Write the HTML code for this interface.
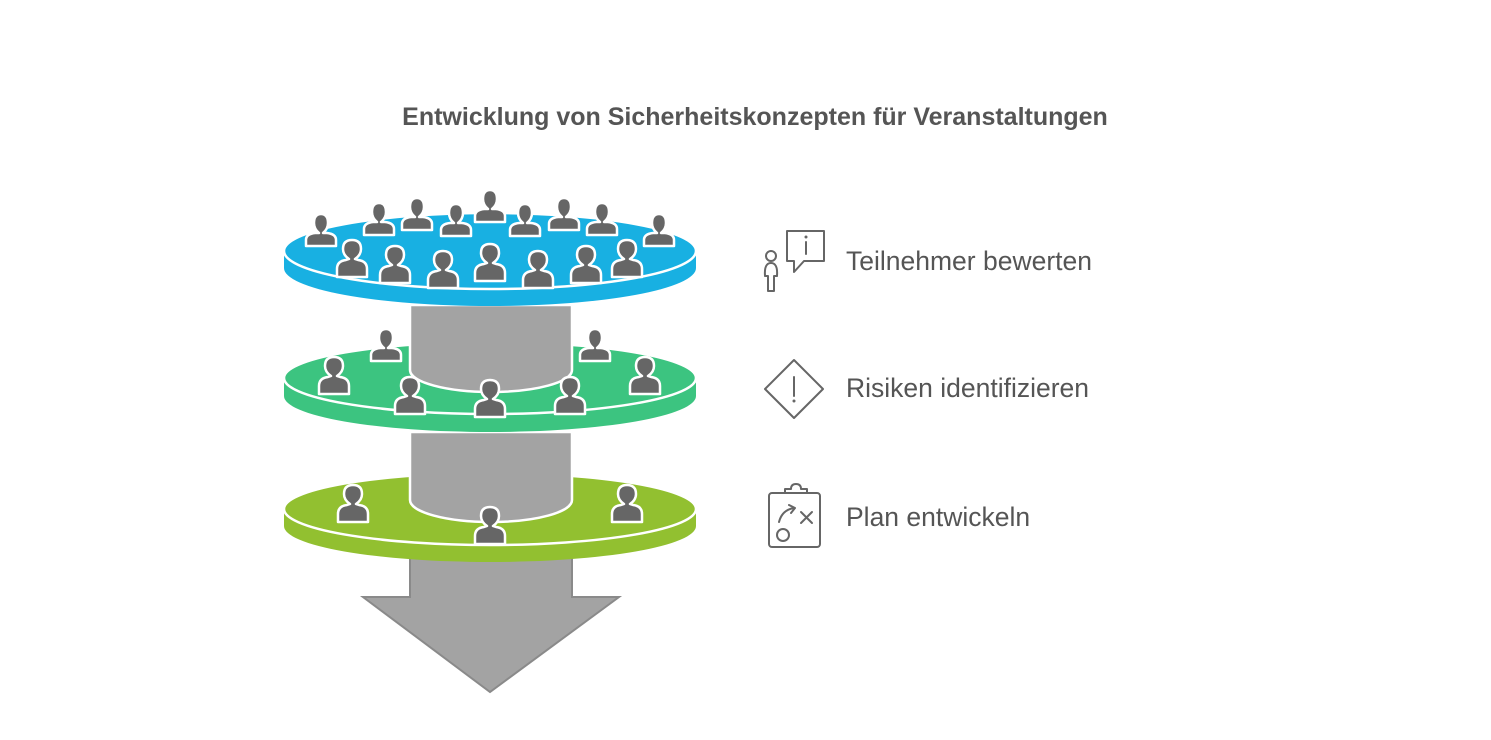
<!DOCTYPE html>
<html><head><meta charset="utf-8"><style>
body{margin:0;background:#fff;}
svg{display:block;}
text{font-family:"Liberation Sans",Arial,sans-serif;}
</style></head><body>
<svg width="1491" height="740" viewBox="0 0 1491 740" xmlns="http://www.w3.org/2000/svg">
<defs>
<g id="p">
<path d="M-15,27 L-15,19 Q-15,11 -6,10 L-3,9 Q-9,5 -9,-1 Q-9,-10 0,-10 Q9,-10 9,-1 Q9,5 3,9 L6,10 Q15,11 15,19 L15,27 Z" fill="#666" stroke="#fff" stroke-width="2.5" stroke-linejoin="round"/>
</g>
<g id="q">
<path d="M-15,21 L-15,15 Q-15,9 -6,8 L-2,8 Q-7,4 -7,-2 Q-7,-11 0,-11 Q7,-11 7,-2 Q7,4 2,8 L6,8 Q15,9 15,15 L15,21 Z" fill="#666" stroke="#fff" stroke-width="2.5" stroke-linejoin="round"/>
</g>
</defs>
<rect x="0" y="0" width="1491" height="740" fill="#fff"/>
<text x="755" y="125" text-anchor="middle" font-size="25" font-weight="bold" fill="#555">Entwicklung von Sicherheitskonzepten für Veranstaltungen</text>

<path d="M410,555 L410,597 L363,597 L490,692 L619,597 L572,597 L572,555 Z" fill="#a3a3a3" stroke="#8a8a8a" stroke-width="2"/>

<path d="M284,510 L284,526 A206,36 0 0 0 696,526 L696,510 Z" fill="#92c030"/>
<ellipse cx="490" cy="509" rx="206" ry="36" fill="#92c030" stroke="#fff" stroke-width="2.5"/>
<path d="M410,432 L410,500 A81,22 0 0 0 572,500 L572,432 Z" fill="#a3a3a3" stroke="#fff" stroke-width="2.5"/>
<use href="#p" x="353" y="495"/>
<use href="#p" x="627" y="495"/>
<use href="#p" x="490" y="517"/>

<path d="M284,380 L284,396 A206,36 0 0 0 696,396 L696,380 Z" fill="#3cc480"/>
<ellipse cx="490" cy="378" rx="206" ry="36" fill="#3cc480" stroke="#fff" stroke-width="2.5"/>
<use href="#q" x="386" y="340"/>
<use href="#q" x="595" y="340"/>
<path d="M410,305 L410,370 A81,22 0 0 0 572,370 L572,305 Z" fill="#a3a3a3" stroke="#fff" stroke-width="2.5"/>
<use href="#p" x="334" y="367"/>
<use href="#p" x="645" y="367"/>
<use href="#p" x="410" y="387"/>
<use href="#p" x="490" y="390"/>
<use href="#p" x="570" y="387"/>

<path d="M284,252 L284,268 A206,38 0 0 0 696,268 L696,252 Z" fill="#18b0e2"/>
<ellipse cx="490" cy="251" rx="206" ry="38" fill="#18b0e2" stroke="#fff" stroke-width="2.5"/>
<use href="#q" x="321" y="225"/>
<use href="#q" x="379" y="214"/>
<use href="#q" x="417" y="209"/>
<use href="#q" x="456" y="215"/>
<use href="#q" x="490" y="201"/>
<use href="#q" x="525" y="215"/>
<use href="#q" x="564" y="209"/>
<use href="#q" x="602" y="214"/>
<use href="#q" x="659" y="225"/>
<use href="#p" x="352" y="250"/>
<use href="#p" x="395" y="256"/>
<use href="#p" x="443" y="261"/>
<use href="#p" x="490" y="254"/>
<use href="#p" x="538" y="261"/>
<use href="#p" x="586" y="256"/>
<use href="#p" x="627" y="250"/>

<g fill="none" stroke="#666" stroke-width="2" stroke-linejoin="round" stroke-linecap="round">
<path d="M787,231 L824,231 L824,261 L804,261 L794,272 L794,261 L787,261 Z"/>
<line x1="806" y1="242" x2="806" y2="254"/>
<circle cx="771" cy="256" r="5"/>
<path d="M765,276 Q764,263 771,263 Q778,263 777,276 L774,276 L774,291 L768,291 L768,276 Z"/>
<path d="M794,360 L823,389 L794,418 L765,389 Z"/>
<line x1="794" y1="377" x2="794" y2="396"/>
<rect x="769" y="493" width="51" height="54" rx="3"/>
<path d="M785,493 L785,489 L791,489 Q791,484 796,484 Q801,484 801,489 L807,489 L807,493 L785,493 Z"/>
<path d="M779,522 Q782,510 794,508 M789,505 L795,508 L791,513"/>
<path d="M801,512 L812,523 M812,512 L801,523"/>
<circle cx="783" cy="535" r="6"/>
</g>
<circle cx="806" cy="237" r="1.5" fill="#666"/>
<circle cx="794" cy="401" r="1.5" fill="#666"/>

<text x="846" y="270" font-size="26.5" fill="#555">Teilnehmer bewerten</text>
<text x="846" y="397" font-size="26.5" fill="#555">Risiken identifizieren</text>
<text x="846" y="526" font-size="26.5" fill="#555">Plan entwickeln</text>
</svg>
</body></html>
